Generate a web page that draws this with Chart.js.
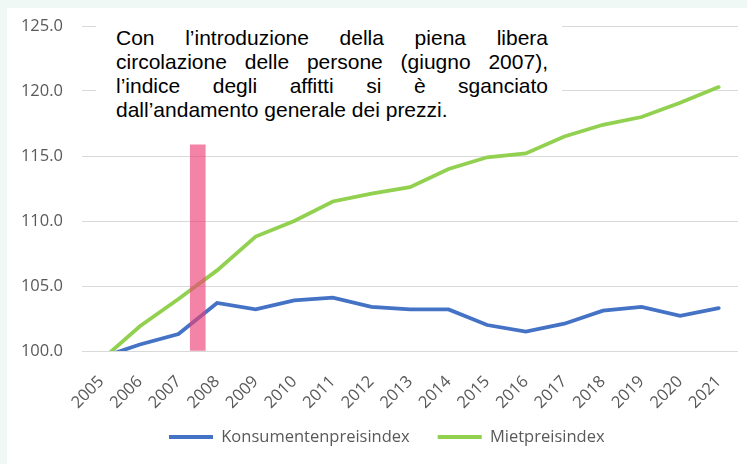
<!DOCTYPE html>
<html>
<head>
<meta charset="utf-8">
<script src="https://cdn.jsdelivr.net/npm/chart.js@4"></script>
<style>
  html, body { margin: 0; padding: 0; }
  body { width: 747px; height: 464px; background: #eff8f4; position: relative; overflow: hidden; }
  #wrap { position: absolute; left: 7px; top: 8px; width: 740px; height: 456px; background: #ffffff; }
  #note { position: absolute; left: 96px; top: 16px; width: 432px; padding: 10px 14px 10px 20px;
          background: #ffffff; font-family: 'Liberation Sans', Arial, sans-serif; font-size: 21px;
          line-height: 24px; color: #000; }
  #note .j { text-align: justify; text-align-last: justify; white-space: normal; }
  #note .l { text-align: left; }
</style>
</head>
<body>
<div id="wrap"><canvas id="c" width="740" height="456"></canvas></div>
<div id="note">
  <div class="j">Con l’introduzione della piena libera</div>
  <div class="j">circolazione delle persone (giugno 2007),</div>
  <div class="j">l’indice degli affitti si è sganciato</div>
  <div class="l">dall’andamento generale dei prezzi.</div>
</div>
<script>
// ---- data ----
const years = [2005, 2006, 2007, 2008, 2009, 2010, 2011, 2012, 2013, 2014, 2015, 2016, 2017, 2018, 2019, 2020, 2021];
const consumerIndex = [99.5, 100.5, 101.3, 103.7, 103.2, 103.9, 104.1, 103.4, 103.2, 103.2, 102.0, 101.5, 102.1, 103.1, 103.4, 102.7, 103.3];
const rentIndex = [99.3, 101.9, 104.0, 106.2, 108.8, 110.0, 111.5, 112.1, 112.6, 114.0, 114.9, 115.2, 116.5, 117.4, 118.0, 119.1, 120.3];
const seriesNames = ['Konsumentenpreisindex', 'Mietpreisindex'];
const yTicks = [100, 105, 110, 115, 120, 125];
const markerX = [2007.5];
const markerTop = [115.85];

const toPoints = (vals) => vals.map((v, i) => ({ x: years[i], y: v }));
const tickFont = { family: "'Open Sans', sans-serif", size: 16.5 };
const grey = '#595959';
const legendPad = 28;

// place the legend row like the reference (start-aligned, slightly above the layout slot)
const legendPlacer = {
  id: 'legendPlacer',
  afterLayout(chart) {
    const lg = chart.legend;
    if (!lg) return;
    const h = lg.height;
    lg.left = 134;
    lg.right = chart.width;
    lg.top = 429 - legendPad - tickFont.size / 2;
    lg.bottom = lg.top + h;
  }
};

new Chart(document.getElementById('c'), {
  type: 'line',
  plugins: [legendPlacer],
  data: {
    datasets: [
      {
        type: 'bar',
        label: 'marker',
        data: markerX.map((x, i) => ({ x: x, y: markerTop[i] })),
        base: yTicks[0],
        backgroundColor: 'rgba(238, 62, 118, 0.64)',
        borderWidth: 0,
        barThickness: 15,
        order: 0
      },
      {
        label: seriesNames[0],
        data: toPoints(consumerIndex),
        borderColor: '#4472c4',
        backgroundColor: '#4472c4',
        borderWidth: 3.8,
        borderCapStyle: 'round',
        pointRadius: 0,
        tension: 0,
        order: 1
      },
      {
        label: seriesNames[1],
        data: toPoints(rentIndex),
        borderColor: '#92d050',
        backgroundColor: '#92d050',
        borderWidth: 3.8,
        borderCapStyle: 'round',
        pointRadius: 0,
        tension: 0,
        order: 2
      }
    ]
  },
  options: {
    responsive: false,
    animation: false,
    layout: { padding: { top: 18, right: 9, left: 0, bottom: 0 } },
    plugins: {
      tooltip: { enabled: false },
      legend: {
        position: 'bottom',
        align: 'start',
        maxHeight: 49,
        labels: {
          filter: (item) => item.text !== 'marker',
          usePointStyle: true,
          pointStyle: 'line',
          pointStyleWidth: 44,
          padding: legendPad,
          color: grey,
          font: tickFont
        }
      }
    },
    scales: {
      x: {
        type: 'linear',
        offset: false,
        min: years[0] - 0.5,
        max: years[years.length - 1] + 0.5,
        afterBuildTicks: (scale) => { scale.ticks = years.map(v => ({ value: v })); },
        afterFit: (scale) => { scale.height = 64; scale.paddingLeft = 0; scale.paddingRight = 0; },
        grid: { display: false, drawTicks: false, offset: false },
        border: { display: false },
        ticks: {
          autoSkip: false,
          minRotation: 45,
          maxRotation: 45,
          padding: 21,
          color: grey,
          font: tickFont,
          callback: (v) => String(v)
        }
      },
      y: {
        min: yTicks[0],
        max: yTicks[yTicks.length - 1],
        afterBuildTicks: (scale) => { scale.ticks = yTicks.map(v => ({ value: v })); },
        afterFit: (scale) => { scale.width = 75; scale.paddingTop = 0; scale.paddingBottom = 0; },
        grid: { color: '#d9d9d9', lineWidth: 1, drawTicks: false },
        border: { display: false },
        ticks: {
          padding: 19,
          color: grey,
          font: tickFont,
          callback: (v) => Number(v).toFixed(1)
        }
      }
    }
  }
});
</script>
</body>
</html>
